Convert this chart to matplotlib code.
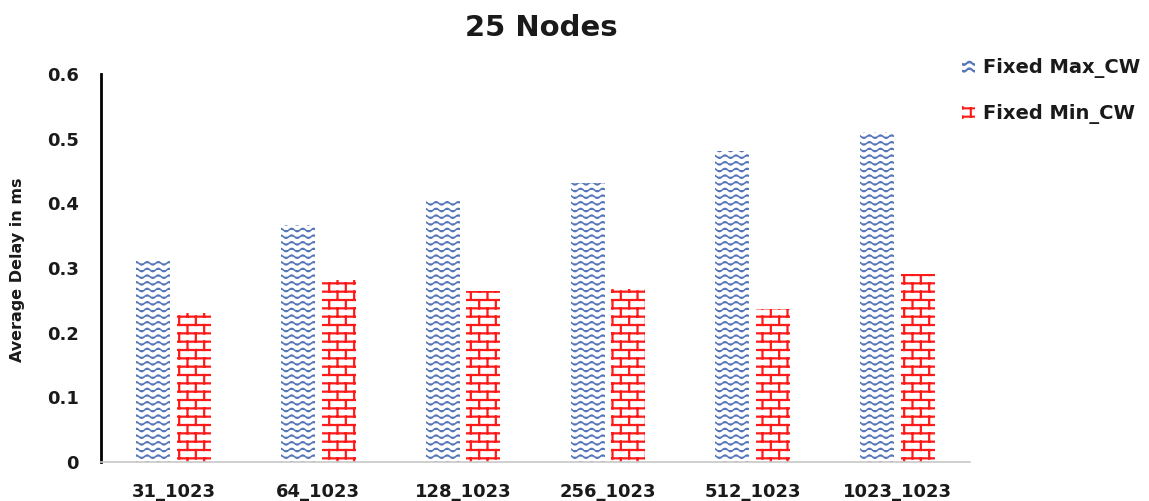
import numpy as np
import matplotlib
matplotlib.use("Agg")
import matplotlib.pyplot as plt
import matplotlib.hatch as mhatch
from matplotlib.path import Path
import warnings
warnings.filterwarnings("ignore")

# ---------------- data ----------------
categories = ["31_1023", "64_1023", "128_1023", "256_1023", "512_1023", "1023_1023"]
max_cw = [0.313, 0.367, 0.403, 0.431, 0.481, 0.510]
min_cw = [0.230, 0.281, 0.264, 0.267, 0.237, 0.290]
series_labels = ["Fixed Max_CW", "Fixed Min_CW"]
title = "25 Nodes"
ylabel = "Average Delay in ms"
yticks = [0, 0.1, 0.2, 0.3, 0.4, 0.5, 0.6]
ytick_labels = ["0", "0.1", "0.2", "0.3", "0.4", "0.5", "0.6"]


# ---------------- custom hatch patterns ----------------
class WaveHatch(mhatch.HatchPatternBase):
    rows = 15
    periods = 9
    pts = 12

    def __init__(self, hatch, density):
        self.n = hatch.count('~')
        self.num_vertices = (self.rows * (self.periods * self.pts + 1)) if self.n else 0

    def set_vertices_and_codes(self, vertices, codes):
        npts = self.periods * self.pts + 1
        x = np.linspace(0, 1, npts)
        k = 0
        for r in range(self.rows):
            y0 = (r + 0.5) / self.rows
            y = y0 + 0.016 * np.sin(2 * np.pi * self.periods * x)
            vertices[k:k + npts, 0] = x
            vertices[k:k + npts, 1] = y
            codes[k] = Path.MOVETO
            codes[k + 1:k + npts] = Path.LINETO
            k += npts


class BrickHatch(mhatch.HatchPatternBase):
    rows = 12
    cols = 6

    def __init__(self, hatch, density):
        self.n = hatch.count('b')
        self.num_vertices = ((self.rows + 1) * 2 + self.rows * self.cols * 2) if self.n else 0

    def set_vertices_and_codes(self, vertices, codes):
        k = 0
        h = 1.0 / self.rows
        for r in range(self.rows + 1):
            y = r * h
            vertices[k] = (0, y)
            vertices[k + 1] = (1, y)
            codes[k] = Path.MOVETO
            codes[k + 1] = Path.LINETO
            k += 2
        for r in range(self.rows):
            off = 0.5 * (r % 2)
            for c in range(self.cols):
                x = (c + off + 0.25) / self.cols
                vertices[k] = (x, r * h)
                vertices[k + 1] = (x, (r + 1) * h)
                codes[k] = Path.MOVETO
                codes[k + 1] = Path.LINETO
                k += 2


mhatch._hatch_types.append(WaveHatch)
mhatch._hatch_types.append(BrickHatch)

# ---------------- figure ----------------
plt.rcParams['hatch.linewidth'] = 1.5
W, H, DPI = 1149, 501, 100
fig = plt.figure(figsize=(W / DPI, H / DPI), dpi=DPI)
ax = fig.add_axes([101 / W, 1 - 462 / H, (970 - 101) / W, (462 - 74) / H])

blue = "#5576b8"
red = "#ff1a1a"

x = np.arange(len(categories))
bw = 0.235
off = 0.14
b1 = ax.bar(x - off, max_cw, width=bw, facecolor="white", edgecolor=blue,
            linewidth=0, hatch="~", label=series_labels[0])
b2 = ax.bar(x + off, min_cw, width=bw, facecolor="white", edgecolor=red,
            linewidth=0, hatch="b", label=series_labels[1])
for p in b1.patches:
    if hasattr(p, "set_hatch_linewidth"):
        p.set_hatch_linewidth(1.1)
for p in b2.patches:
    if hasattr(p, "set_hatch_linewidth"):
        p.set_hatch_linewidth(1.6)

ax.set_xlim(-0.5, len(categories) - 0.5)
ax.set_ylim(0, 0.6)
ax.set_yticks(yticks)
ax.set_yticklabels(ytick_labels)
ax.set_xticks(x)
ax.set_xticklabels(categories)
ax.tick_params(axis='both', length=0, labelsize=13)
ax.tick_params(axis='y', pad=16)
ax.tick_params(axis='x', pad=15)
for lab in ax.get_xticklabels() + ax.get_yticklabels():
    lab.set_fontweight('bold')
    lab.set_color("#1a1a1a")

for s in ["top", "right"]:
    ax.spines[s].set_visible(False)
ax.spines["left"].set_linewidth(2)
ax.spines["left"].set_color("black")
ax.spines["bottom"].set_linewidth(1.2)
ax.spines["bottom"].set_color("#c8c8c8")

fig.text(18 / W, 1 - 270 / H, ylabel, rotation=90, ha='center', va='center',
         fontsize=11.5, fontweight='bold', color="#1a1a1a")
fig.text(541 / W, 1 - 28 / H, title, ha='center', va='center',
         fontsize=21, fontweight='bold', color="#1a1a1a")

leg = fig.legend(handles=[b1, b2], labels=series_labels,
                 loc='upper left', bbox_to_anchor=(962 / W, 1 - 58 / H),
                 frameon=False, handlelength=0.65, handleheight=0.65,
                 handletextpad=0.45, labelspacing=1.35, borderpad=0,
                 borderaxespad=0,
                 prop={'weight': 'bold', 'size': 14})
for t in leg.get_texts():
    t.set_color("#1a1a1a")

fig.savefig("out.png", dpi=DPI)
